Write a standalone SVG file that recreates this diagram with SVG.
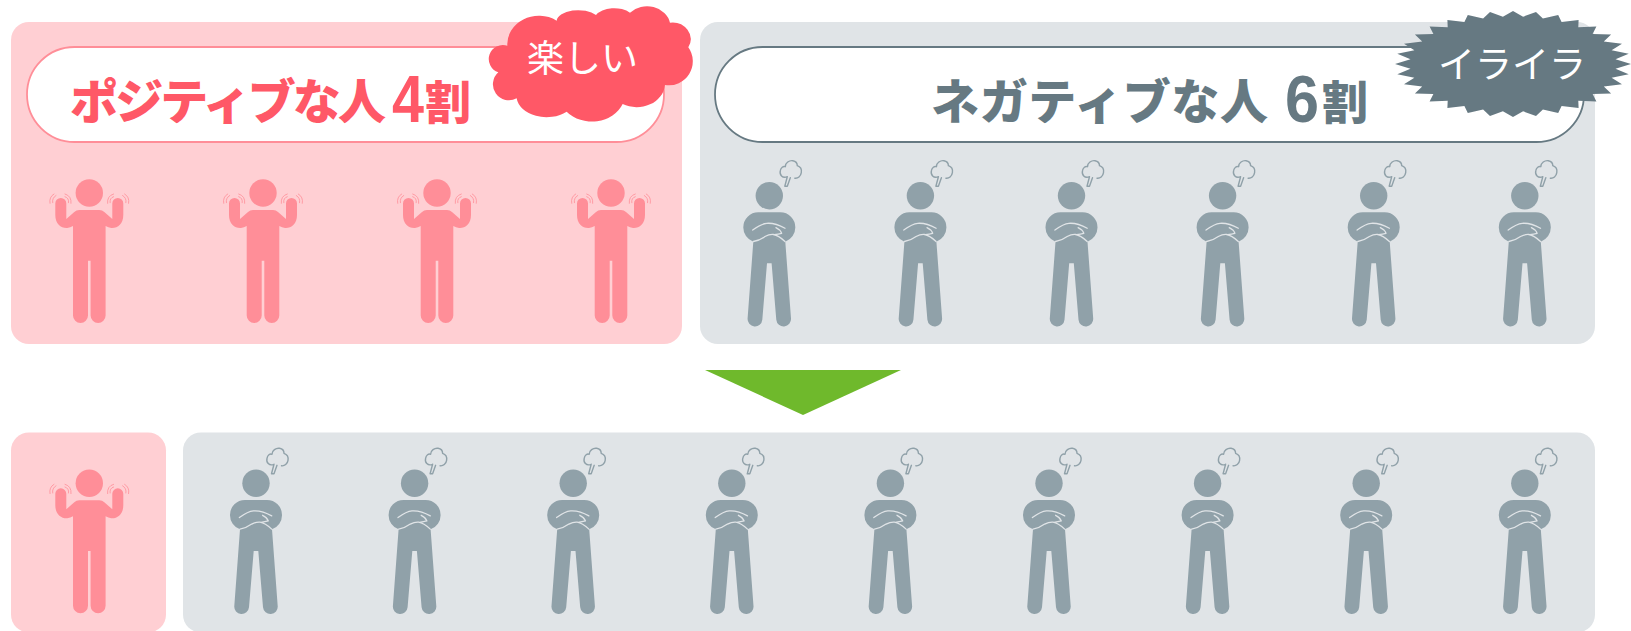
<svg xmlns="http://www.w3.org/2000/svg" xmlns:xlink="http://www.w3.org/1999/xlink" width="1631" height="631" viewBox="0 0 1631 631">
<style>
.pp{fill:#ffcfd3}.gp{fill:#e0e4e7}
.pf{fill:#ff8e98}.gf{fill:#90a1a9}
.wave{fill:none;stroke:#ff8e98;stroke-width:.8;stroke-linecap:round}
.arm{fill:none;stroke:#e0e4e7;stroke-width:1.3;stroke-linecap:round;stroke-linejoin:round}
.puff{fill:none;stroke:#90a1a9;stroke-width:1.4;stroke-linecap:round;stroke-linejoin:round}
.pill{fill:#fff;stroke-width:1.8}
.h{font-family:"Noto Sans CJK JP","Liberation Sans",sans-serif;font-weight:900}
.n{font-family:"Liberation Sans","Noto Sans CJK JP",sans-serif;font-weight:700}
.b{font-family:"Noto Sans CJK JP",sans-serif;font-weight:400;fill:#fff}
</style>
<defs>
<g id="happy">
<circle r="13.7" class="pf"/>
<path class="pf" d="M-10 17H10Q13 17 15 19L23 26V10.500A5.500 5.500 0 0 1 34 10.500V22C34 31 28 35.500 22 35Q19 34.500 16.300 33V122.500A7.500 7.500 0 0 1 1.300 122.500V67.700H-1.300V122.500A7.500 7.500 0 0 1-16.300 122.500V33Q-19 34.500-22 35C-28 35.500-34 31-34 22V10.500A5.500 5.500 0 0 1-23 10.500V26L-15 19Q-13 17-10 17Z"/>
<path class="wave" d="M-39.300 10.300Q-40.500 4-35.300 1M-36.600 9.700Q-37.500 5-33.300 2.500M-24.300 1Q-17.500 3-18.300 10.300M-24.300 3.700Q-20 5-20.800 9.700M39.300 10.300Q40.500 4 35.300 1M36.600 9.700Q37.500 5 33.300 2.500M24.300 1Q17.500 3 18.300 10.300M24.300 3.700Q20 5 20.800 9.700"/>
</g>
<g id="angry">
<circle r="13.7" class="gf"/>
<path class="gf" d="M-11 16.600H11A15 15 0 0 1 26 31.600A15 15 0 0 1 16 46L21.700 122.700A7.300 7.300 0 0 1 7 124L2.300 67.600H-2.300L-7 124A7.300 7.300 0 0 1-21.700 122.700L-16 46A15 15 0 0 1-26 31.600A15 15 0 0 1-11 16.600Z"/>
<path class="arm" d="M-16.600 34.300Q-8 28-2.600 27.600Q6 27 15.700 32.600M-16 45.800Q-10 45-4.300 40.800Q0 38.500 4 38.800Q9 39.500 15.700 45.800M6.600 32Q11 34 12.300 37.600Q9 38.500 5 39"/>
<path class="puff" d="M18-19C13-17 10-21 11-25C11.500-28 14-30 16-29C16-33 20-35.500 23.500-35C26.500-34.500 28-32 28-30C31-29 32.500-26 32-23C31.500-19.500 28.500-17 25.500-17.500M18-19L15.500-9.500L18-9.500L21-18"/>
</g>
</defs>
<g id="panel-positive">
<rect class="pp" x="11" y="22" width="671" height="322" rx="18"/>
<rect class="pill" stroke="#ff8e98" x="27" y="47" width="637" height="95" rx="47.500"/>
<text class="h" x="70" y="119" font-size="48" fill="#ff5867" textLength="316">ポジティブな人</text>
<text class="n" x="392" y="122" font-size="66" fill="#ff5867" textLength="32" lengthAdjust="spacingAndGlyphs">4</text>
<text class="h" x="425" y="119" font-size="46" fill="#ff5867">割</text>
</g>
<g id="panel-negative">
<rect class="gp" x="700" y="22" width="895" height="322" rx="18"/>
<rect class="pill" stroke="#667982" x="715" y="47" width="869" height="95" rx="47.500"/>
<text class="h" x="931" y="119" font-size="48" fill="#667982" textLength="337">ネガティブな人</text>
<text class="n" x="1285" y="122" font-size="66" fill="#667982" textLength="34" lengthAdjust="spacingAndGlyphs">6</text>
<text class="h" x="1322" y="119" font-size="46" fill="#667982">割</text>
</g>
<g id="bubble-fun">
<path transform="translate(490 0) scale(.3333)" fill="#ff5867" d="M52 137A95 85 0 0 1 200 62A65 34 0 0 1 318 45A60 35 0 0 1 420 38A70 60 0 0 1 540 68A55 50 0 0 1 595 142A72 72 0 0 1 525 255A85 72 0 0 1 398 312A100 86 0 0 1 230 335A90 64 0 0 1 80 295A48 48 0 0 1 25 217A42 42 0 0 1 52 137Z"/>
<text class="b" x="527" y="72" font-size="37">楽しい</text>
</g>
<g id="bubble-irritated">
<polygon transform="translate(1513 64)" fill="#667982" points="118,0 102.500,-4.700 115.700,-10.300 98.600,-13.800 109,-20.300 90.800,-22.400 98.100,-29.400 79.600,-30.100 83.400,-37.500 65.300,-36.700 65.600,-44.100 48.600,-41.900 45.200,-49 29.900,-45.500 23,-52 10.100,-47.300 0,-53 -10.100,-47.300 -23,-52 -29.900,-45.500 -45.200,-49 -48.600,-41.900 -65.600,-44.100 -65.300,-36.700 -83.400,-37.500 -79.600,-30.100 -98.100,-29.400 -90.800,-22.400 -109,-20.300 -98.600,-13.800 -115.700,-10.300 -102.500,-4.700 -118,0 -102.500,4.700 -115.700,10.300 -98.600,13.800 -109,20.300 -90.800,22.400 -98.100,29.400 -79.600,30.100 -83.400,37.500 -65.300,36.700 -65.600,44.100 -48.600,41.900 -45.200,49 -29.900,45.500 -23,52 -10.100,47.300 0,53 10.100,47.300 23,52 29.900,45.500 45.200,49 48.600,41.900 65.600,44.100 65.300,36.700 83.400,37.500 79.600,30.100 98.100,29.400 90.800,22.400 109,20.300 98.600,13.800 115.700,10.300 102.500,4.700"/>
<text class="b" x="1438" y="78" font-size="37">イライラ</text>
</g>
<g id="people-top">
<use xlink:href="#happy" href="#happy" x="89.300" y="193"/>
<use xlink:href="#happy" href="#happy" x="263" y="193"/>
<use xlink:href="#happy" href="#happy" x="437" y="193"/>
<use xlink:href="#happy" href="#happy" x="611" y="193"/>
<use xlink:href="#angry" href="#angry" x="769.300" y="195.700"/>
<use xlink:href="#angry" href="#angry" x="920.400" y="195.700"/>
<use xlink:href="#angry" href="#angry" x="1071.500" y="195.700"/>
<use xlink:href="#angry" href="#angry" x="1222.600" y="195.700"/>
<use xlink:href="#angry" href="#angry" x="1373.700" y="195.700"/>
<use xlink:href="#angry" href="#angry" x="1524.800" y="195.700"/>
</g>
<g id="connectors">
<polygon fill="#6fb92c" points="705,370 901,370 803,415"/>
</g>
<g id="panel-after">
<rect class="pp" x="11" y="432.500" width="155" height="200" rx="18"/>
<rect class="gp" x="183" y="432.500" width="1412" height="200" rx="18"/>
</g>
<g id="people-bottom">
<use xlink:href="#happy" href="#happy" x="89.300" y="483.300"/>
<use xlink:href="#angry" href="#angry" x="256" y="483.300"/>
<use xlink:href="#angry" href="#angry" x="414.600" y="483.300"/>
<use xlink:href="#angry" href="#angry" x="573.200" y="483.300"/>
<use xlink:href="#angry" href="#angry" x="731.800" y="483.300"/>
<use xlink:href="#angry" href="#angry" x="890.400" y="483.300"/>
<use xlink:href="#angry" href="#angry" x="1049" y="483.300"/>
<use xlink:href="#angry" href="#angry" x="1207.600" y="483.300"/>
<use xlink:href="#angry" href="#angry" x="1366.200" y="483.300"/>
<use xlink:href="#angry" href="#angry" x="1524.800" y="483.300"/>
</g>
</svg>
